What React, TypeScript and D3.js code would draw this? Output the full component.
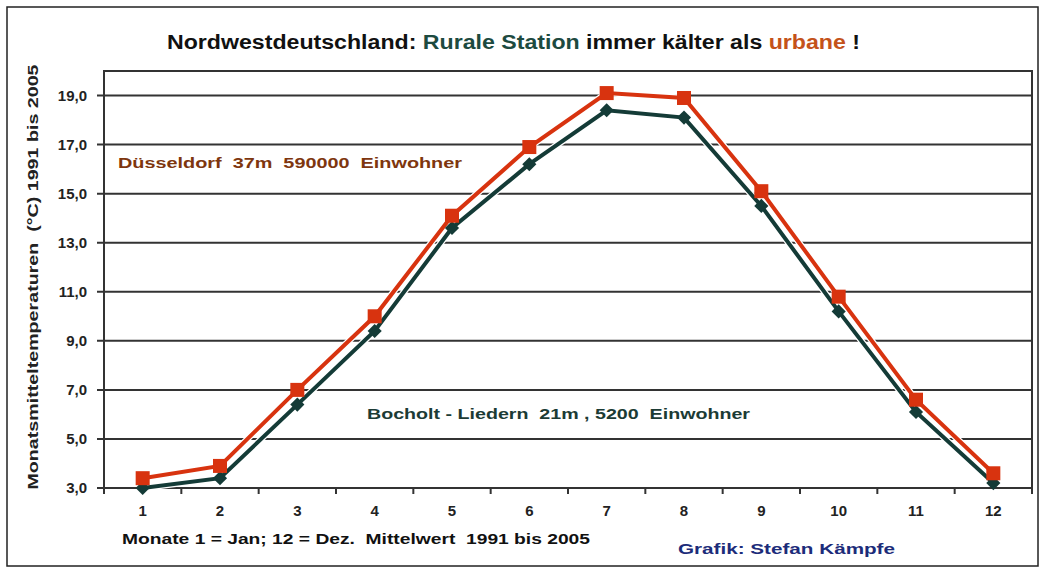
import React from 'react';
import * as d3 from 'd3';

// Monatsmittel 1991-2005
const months = ['1', '2', '3', '4', '5', '6', '7', '8', '9', '10', '11', '12'];
const duesseldorf = [3.4, 3.9, 7.0, 10.0, 14.1, 16.9, 19.1, 18.9, 15.1, 10.8, 6.6, 3.6];
const bocholt = [3.0, 3.4, 6.4, 9.4, 13.6, 16.2, 18.4, 18.1, 14.5, 10.2, 6.1, 3.2];
const yTicks = [3, 5, 7, 9, 11, 13, 15, 17, 19];

const W = 1044;
const H = 569;
const plot = { left: 104, right: 1032, top: 71, bottom: 488 };

const RED = '#d8330f';
const GREEN = '#143b37';
const FONT = 'Liberation Sans, Arial, sans-serif';
const pre = { whiteSpace: 'pre' as const };

export default function App() {
  const x = d3.scaleBand<string>().domain(months).range([plot.left, plot.right]);
  const y = d3.scaleLinear().domain([3, 20]).range([plot.bottom, plot.top]);
  const fmt = (v: number) => d3.format('.1f')(v).replace('.', ',');

  const cx = (i: number) => (x(months[i]) as number) + x.bandwidth() / 2;
  const line = d3.line<number>().x((d, i) => cx(i)).y((d) => y(d));

  const bounds = months.map((m) => x(m) as number).concat([plot.right]);

  return (
    <svg width={W} height={H} style={{ position: 'absolute', left: 0, top: 0, background: '#fff' }}
      fontFamily={FONT} fontWeight="bold">
      {/* Rahmen */}
      <rect x={7} y={7} width={1031} height={559} fill="#fff" stroke="#222" strokeWidth={1.5} />

      {/* Titel */}
      <text x={167} y={49} fontSize={20} textLength={693} lengthAdjust="spacingAndGlyphs" fill="#111" style={pre}>
        <tspan>Nordwestdeutschland: </tspan>
        <tspan fill="#1d4a40">Rurale Station</tspan>
        <tspan> immer kälter als </tspan>
        <tspan fill="#c4521a">urbane</tspan>
        <tspan> !</tspan>
      </text>

      {/* Gitterlinien */}
      {yTicks.map((t) => (
        <g key={t}>
          <line x1={plot.left - 7} x2={plot.right} y1={y(t)} y2={y(t)} stroke="#333" strokeWidth={2} />
          <text x={87} y={y(t) + 5} fontSize={15} textAnchor="end" fill="#222">{fmt(t)}</text>
        </g>
      ))}
      <rect x={plot.left} y={plot.top} width={plot.right - plot.left} height={plot.bottom - plot.top}
        fill="none" stroke="#333" strokeWidth={2} />

      {/* X-Achse */}
      {bounds.map((b, i) => (
        <line key={i} x1={b} x2={b} y1={plot.bottom} y2={plot.bottom + 6} stroke="#333" strokeWidth={2} />
      ))}
      {months.map((m, i) => (
        <text key={m} x={cx(i)} y={516} fontSize={15} textAnchor="middle" fill="#222">{m}</text>
      ))}

      {/* Y-Achsentitel */}
      <text transform="translate(38,277) rotate(-90)" fontSize={15} textAnchor="middle"
        textLength={425} lengthAdjust="spacingAndGlyphs" fill="#222" style={pre}>
        Monatsmitteltemperaturen  (°C) 1991 bis 2005
      </text>

      {/* Reihen */}
      <path d={line(bocholt) as string} fill="none" stroke="#fff" strokeWidth={6.5} />
      <path d={line(duesseldorf) as string} fill="none" stroke="#fff" strokeWidth={6.5} />
      <path d={line(bocholt) as string} fill="none" stroke={GREEN} strokeWidth={4} />
      <path d={line(duesseldorf) as string} fill="none" stroke={RED} strokeWidth={4} />
      {bocholt.map((v, i) => (
        <rect key={'b' + i} x={cx(i) - 5} y={y(v) - 5} width={10} height={10} fill={GREEN}
          transform={`rotate(45 ${cx(i)} ${y(v)})`} />
      ))}
      {duesseldorf.map((v, i) => (
        <rect key={'d' + i} x={cx(i) - 7} y={y(v) - 7} width={14} height={14} fill={RED} />
      ))}

      {/* Beschriftungen */}
      <text x={118} y={168} fontSize={15.5} textLength={344} lengthAdjust="spacingAndGlyphs" fill="#7e360e" style={pre}>
        Düsseldorf  37m  590000  Einwohner
      </text>
      <text x={367} y={419} fontSize={15.5} textLength={383} lengthAdjust="spacingAndGlyphs" fill="#1c3b35" style={pre}>
        Bocholt - Liedern  21m , 5200  Einwohner
      </text>
      <text x={122} y={544} fontSize={15} textLength={468} lengthAdjust="spacingAndGlyphs" fill="#111" style={pre}>
        Monate 1 = Jan; 12 = Dez.  Mittelwert  1991 bis 2005
      </text>
      <text x={678} y={554} fontSize={15.5} textLength={217} lengthAdjust="spacingAndGlyphs" fill="#1c2c7a" style={pre}>
        Grafik: Stefan Kämpfe
      </text>
    </svg>
  );
}
